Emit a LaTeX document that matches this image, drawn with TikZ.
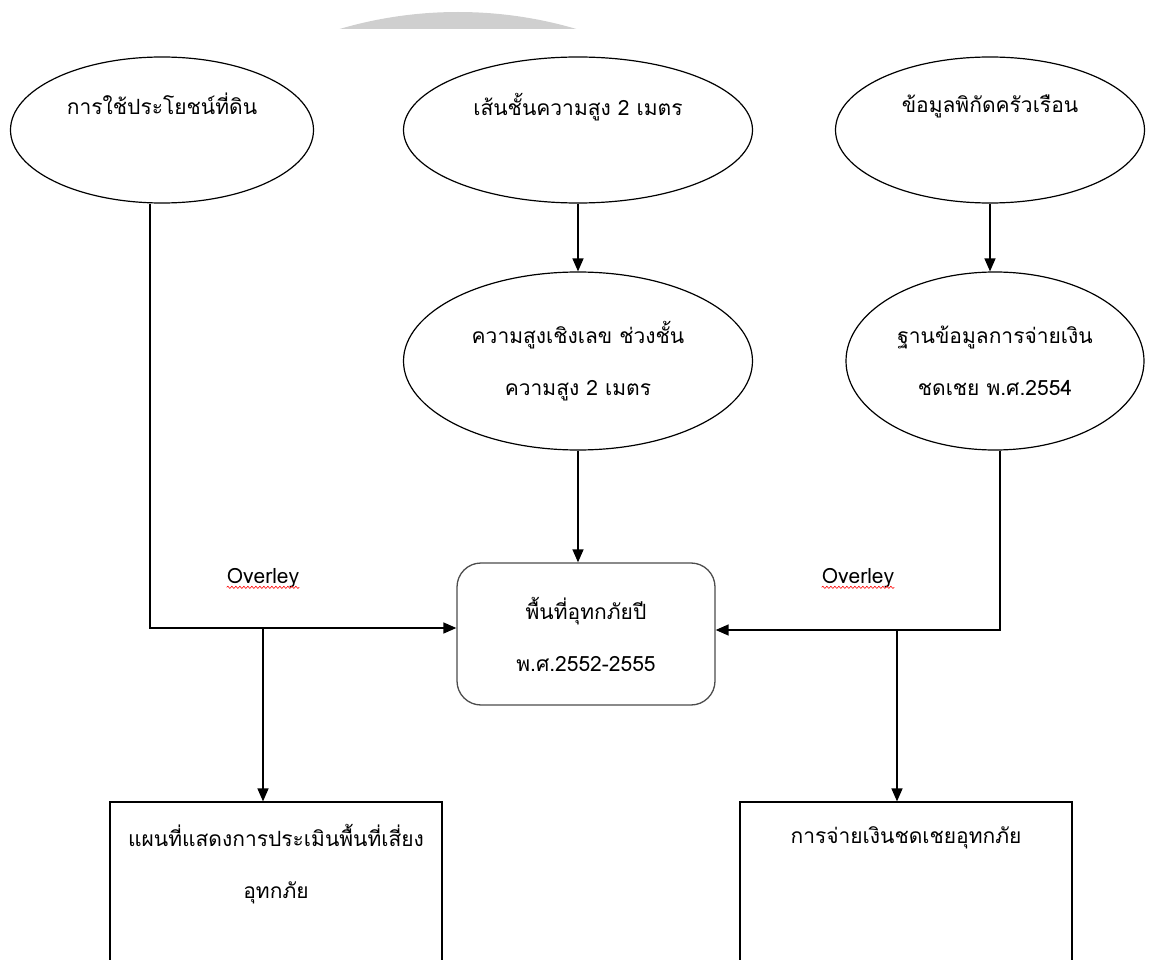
\documentclass[tikz,border=0pt]{standalone}
\usepackage{fontspec}
\newfontfamily\thaifont[Script=Thai]{Loma}
\usetikzlibrary{shapes.geometric,arrows.meta,decorations.pathmorphing}

\begin{document}
\begin{tikzpicture}[x=1pt,y=-1pt,
  every node/.style={font=\thaifont\fontsize{21}{52}\selectfont,align=center,inner sep=0pt},
  oval/.style={draw,ellipse,line width=1.2pt},
  arr/.style={line width=1.4pt,-{Triangle[length=13pt,width=11pt]}},
  wavy/.style={red,line width=0.6pt,decorate,decoration={snake,amplitude=1.1pt,segment length=4pt}}]
\useasboundingbox (0,0) rectangle (1163,960);
\clip (0,0) rectangle (1163,960);

% faint mark at the top
\begin{scope}
  \clip (280,0) rectangle (640,29);
  \fill[black!19] (458,430) circle (418pt);
\end{scope}

  \node[oval,minimum width=303pt,minimum height=146pt] (e1) at (162,130) {การใช้ประโยชน์ที่ดิน\\\mbox{}};
  \node[oval,minimum width=349pt,minimum height=146pt] (e2) at (578,130) {เส้นชั้นความสูง 2 เมตร\\\mbox{}};
  \node[oval,minimum width=309pt,minimum height=146pt] (e3) at (990,130) {ข้อมูลพิกัดครัวเรือน\\\mbox{}};

  \node[oval,minimum width=349pt,minimum height=178pt] (e4) at (578,361) {ความสูงเชิงเลข ช่วงชั้น\\ความสูง 2 เมตร};
  \node[oval,minimum width=298pt,minimum height=178pt] (e5) at (995,361) {ฐานข้อมูลการจ่ายเงิน\\ชดเชย พ.ศ.2554};

  \node[draw=black!70,line width=1.3pt,rounded corners=24pt,minimum width=258pt,minimum height=142pt] (box) at (586,634) {พื้นที่อุทกภัยปี\\พ.ศ.2552-2555};

  \node[draw,line width=1.2pt,minimum width=332pt,minimum height=170pt] (r1) at (276,887) {แผนที่แสดงการประเมินพื้นที่เสี่ยง\\อุทกภัย\\\mbox{}};
  \node[draw,line width=1.2pt,minimum width=332pt,minimum height=170pt] (r2) at (906,887) {การจ่ายเงินชดเชยอุทกภัย\\\mbox{}\\\mbox{}};

  \node (ov1) at (263,578) {Overley};
  \node (ov2) at (858,578) {Overley};
  \draw[wavy] ([yshift=-4pt]ov1.base west) -- ([yshift=-4pt]ov1.base east);
  \draw[wavy] ([yshift=-4pt]ov2.base west) -- ([yshift=-4pt]ov2.base east);

  \coordinate (j1) at (263,628);
  \coordinate (j2) at (897,630);

\foreach \from/\to in {e2/e4, e3/e5, e4/box}
\draw[arr] (\from.south) -- (\from.south |- \to.north);

\draw[arr] ([xshift=-12pt]e1.south) |- (j1) -- ([yshift=6pt]box.west);
\draw[arr] (j1) -- (j1 |- r1.north);
\draw[arr] ([xshift=5pt]e5.south) |- (j2) -- ([yshift=4pt]box.east);
\draw[arr] (j2) -- (j2 |- r2.north);

\end{tikzpicture}
\end{document}
